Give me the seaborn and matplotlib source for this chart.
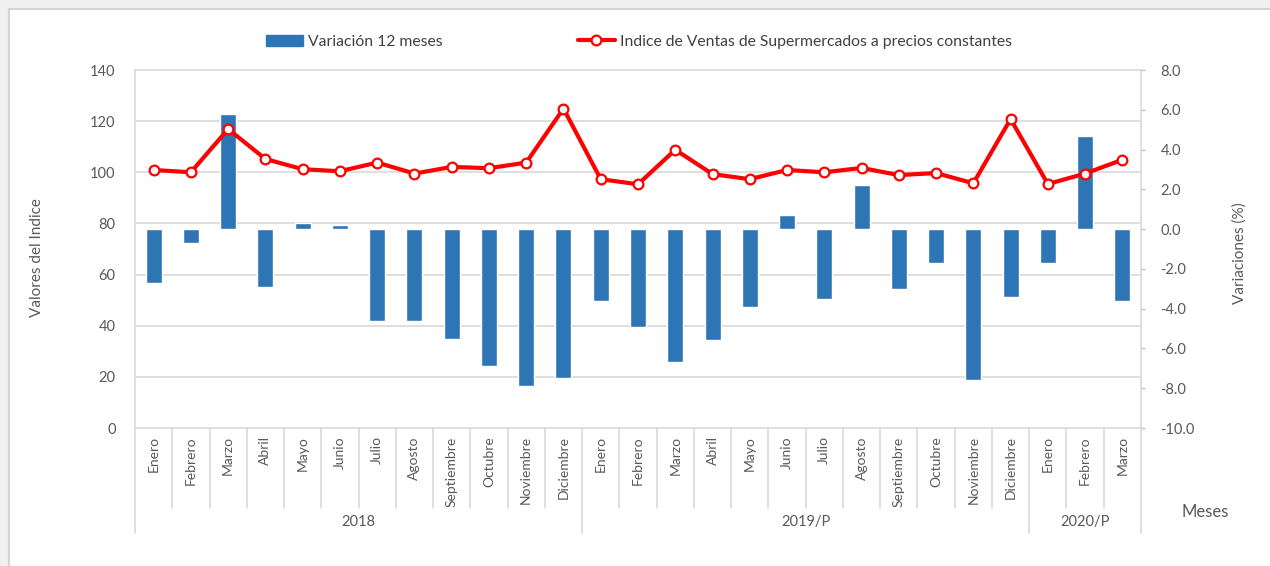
import numpy as np
import pandas as pd
import matplotlib
matplotlib.use("Agg")
import matplotlib.pyplot as plt
import seaborn as sns
import matplotlib.transforms as mtransforms
from matplotlib.patches import Rectangle, Patch
from matplotlib.lines import Line2D
from matplotlib.ticker import FixedLocator

# ---------------- data ----------------
meses = ["Enero", "Febrero", "Marzo", "Abril", "Mayo", "Junio", "Julio", "Agosto",
         "Septiembre", "Octubre", "Noviembre", "Diciembre"] * 2 + ["Enero", "Febrero", "Marzo"]
anios = ["2018"] * 12 + ["2019/P"] * 12 + ["2020/P"] * 3
variacion = [-2.7, -0.7, 5.8, -2.9, 0.3, 0.2, -4.6, -4.6, -5.5, -6.9, -7.9, -7.5,
             -3.6, -4.9, -6.7, -5.6, -3.9, 0.7, -3.5, 2.2, -3.0, -1.7, -7.6, -3.4,
             -1.7, 4.7, -3.6]
indice = [100.9, 100.0, 116.9, 105.2, 101.2, 100.4, 103.8, 99.5, 102.1, 101.6, 103.8, 124.9,
          97.3, 95.3, 108.8, 99.3, 97.3, 100.9, 100.0, 101.7, 98.9, 99.7, 95.7, 120.8,
          95.4, 99.5, 104.9]
left_ticks = [0, 20, 40, 60, 80, 100, 120, 140]
right_ticks = [-10, -8, -6, -4, -2, 0, 2, 4, 6, 8]

df = pd.DataFrame({"mes": meses, "anio": anios, "variacion": variacion, "indice": indice})
df["clave"] = df["anio"] + "-" + df["mes"]
df["pos"] = np.arange(len(df))

# ---------------- style ----------------
sns.set_theme(style="white")
plt.rcParams["font.family"] = ["Lato", "DejaVu Sans"]
TXT = "#595959"
GRID = "#d9d9d9"
BLUE = "#2e75b6"
RED = "#ff0000"

fig = plt.figure(figsize=(12.7, 5.66), dpi=100)
fig.patch.set_facecolor("#f0f0f0")
fig.patches.append(Rectangle((9 / 1270, -0.05), 1.0, 1 - 9 / 566 + 0.05,
                             transform=fig.transFigure, facecolor="white",
                             edgecolor="#d4d4d4", lw=1.5, zorder=-10))

L, R, T, B = 135, 1141, 70, 428
axb = fig.add_axes([L / 1270, 1 - B / 566, (R - L) / 1270, (B - T) / 566])
axb.set_facecolor("white")

# bars (variation, right scale)
sns.barplot(data=df, x="clave", y="variacion", ax=axb, color=BLUE, width=0.43,
            saturation=1, zorder=3)
lo, hi = left_ticks[0], left_ticks[-1]
rlo, rhi = right_ticks[0], right_ticks[-1]
axb.set_xlim(-0.5, len(df) - 0.5)
axb.set_xlabel("")
axb.set_ylabel("")

# line (index, left scale)
axl = axb.twinx()
sns.lineplot(data=df, x="pos", y="indice", ax=axl, color=RED, lw=3, marker="o",
             markersize=7, markerfacecolor="white", markeredgecolor=RED,
             markeredgewidth=1.6, zorder=5)
axl.set_ylim(lo, hi)
axl.yaxis.tick_left()
axl.yaxis.set_label_position("left")
axl.set_yticks(left_ticks)
axl.set_yticklabels([str(v) for v in left_ticks])
axl.tick_params(axis="y", length=0, labelcolor=TXT, labelsize=10.5, pad=14)
axl.set_xlabel("")
axl.set_ylabel("")
for s in axl.spines.values():
    s.set_visible(False)

# right scale settings (after twinx, which resets tick sides)
axb.set_ylim(rlo, rhi)
axb.yaxis.tick_right()
axb.yaxis.set_label_position("right")
axb.set_yticks(right_ticks)
axb.set_yticklabels([f"{v:.1f}" for v in right_ticks])
axb.yaxis.set_minor_locator(FixedLocator([rlo + (v - lo) * (rhi - rlo) / (hi - lo) for v in left_ticks]))
axb.grid(which="minor", axis="y", color=GRID, lw=1.2, zorder=0)
axb.grid(which="major", visible=False)
axb.set_axisbelow(True)
axb.tick_params(axis="y", which="major", left=False, right=True, labelleft=False,
                labelright=True, length=3, width=1, color="#bfbfbf",
                labelcolor=TXT, labelsize=10.5, pad=11)
axb.tick_params(axis="y", which="minor", left=False, right=False, length=0)
axb.set_xticks(range(len(df)))
axb.set_xticklabels(meses, rotation=90)
axb.tick_params(axis="x", length=0, labelcolor=TXT, labelsize=10, pad=6)
for s in axb.spines.values():
    s.set_color(GRID)
    s.set_linewidth(1.2)

# category boxes below the axis
trans = mtransforms.blended_transform_factory(axb.transData, axb.transAxes)
yr_edges = [-0.5]
for i in range(1, len(df)):
    if anios[i] != anios[i - 1]:
        yr_edges.append(i - 0.5)
yr_edges.append(len(df) - 0.5)
for b in np.arange(-0.5, len(df), 1.0):
    depth = -0.2935 if b in yr_edges else -0.2235
    axb.plot([b, b], [0, depth], transform=trans, clip_on=False, color=GRID, lw=1.2)
for a, e0, e1 in zip(pd.unique(np.array(anios)), yr_edges[:-1], yr_edges[1:]):
    axb.text((e0 + e1) / 2, -0.2626, a, transform=trans, ha="center", va="center",
             color=TXT, fontsize=10.5)

fig.text(1205 / 1270, 1 - 512 / 566, "Meses", ha="center", va="center", color=TXT, fontsize=12)
fig.text(37 / 1270, 1 - 258 / 566, "Valores del Indice", rotation=90, ha="center",
         va="center", color=TXT, fontsize=11)
fig.text(1240 / 1270, 1 - 253 / 566, "Variaciones (%)", rotation=90, ha="center",
         va="center", color=TXT, fontsize=11)

handles = [Patch(facecolor=BLUE, edgecolor=BLUE),
           Line2D([], [], color=RED, lw=3, marker="o", markersize=7,
                  markerfacecolor="white", markeredgecolor=RED, markeredgewidth=1.6)]
fig.legend(handles, ["Variación 12 meses",
                     "Indice de Ventas de Supermercados a precios constantes"],
           loc="center", bbox_to_anchor=(0.503, 0.926), ncol=2, frameon=False,
           columnspacing=8.6, handlelength=2.4, handletextpad=0.3, fontsize=11.3,
           labelcolor="#404040")

fig.savefig("out.png", dpi=100, facecolor=fig.get_facecolor())
